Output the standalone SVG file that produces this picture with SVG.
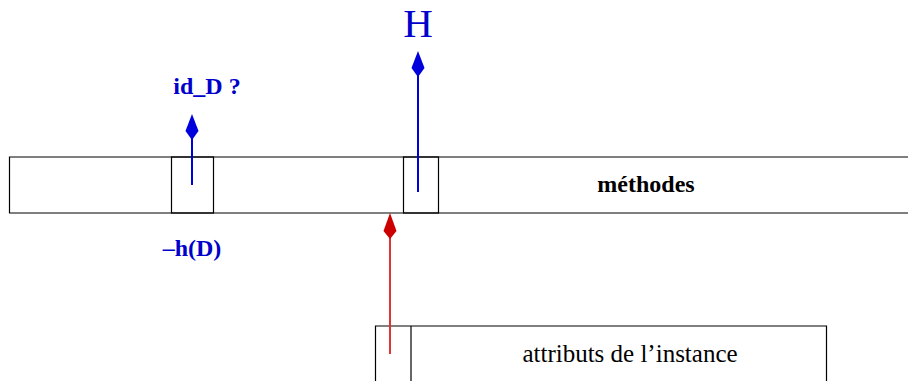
<svg xmlns="http://www.w3.org/2000/svg" width="908" height="381" viewBox="0 0 908 381">
<style>
.box{fill:none;stroke:#000;stroke-width:1.2}
.lbl{font-family:"Liberation Serif",serif;font-weight:bold;font-size:24px}
.blue{fill:#0000cc}
.bl{stroke:#0000dd;stroke-width:2;fill:none}
.rl{stroke:#e03333;stroke-width:2;fill:none}
</style>
<rect width="908" height="381" fill="#fff"/>
<g id="methodes">
<path class="box" d="M909,157 H9.5 V213 H909"/>
<text class="lbl" x="646" y="192" text-anchor="middle" fill="#000">méthodes</text>
</g>
<g id="slot-h">
<rect class="box" x="171.5" y="157" width="42" height="56"/>
</g>
<g id="slot-H">
<rect class="box" x="403.5" y="157" width="35" height="56"/>
</g>
<g id="attributs">
<path class="box" d="M375.5,382 V326 H826.5 V382"/>
<path class="box" d="M411,326 V382"/>
<text x="630" y="362" text-anchor="middle" font-family="Liberation Serif, serif" font-size="25" fill="#000">attributs de l’instance</text>
</g>
<g id="connectors">
<path class="bl" d="M192,185 V136"/>
<path d="M192,114 L198.5,131 L192,140 L185.5,131 Z" fill="#0000dd"/>
<path class="bl" d="M418,192 V72"/>
<path d="M418,51 L424.5,68 L418,77 L411.5,68 Z" fill="#0000dd"/>
<path class="rl" d="M390,354 V234"/>
<path d="M390,213 L396.5,231 L390,239 L383.5,231 Z" fill="#cc0000"/>
</g>
<g id="labels">
<text class="lbl blue" x="207" y="94" text-anchor="middle">id_D ?</text>
<text x="418" y="37" text-anchor="middle" font-family="Liberation Serif, serif" font-size="41" class="blue">H</text>
<text class="lbl blue" x="192" y="256" text-anchor="middle">–h(D)</text>
</g>
</svg>
